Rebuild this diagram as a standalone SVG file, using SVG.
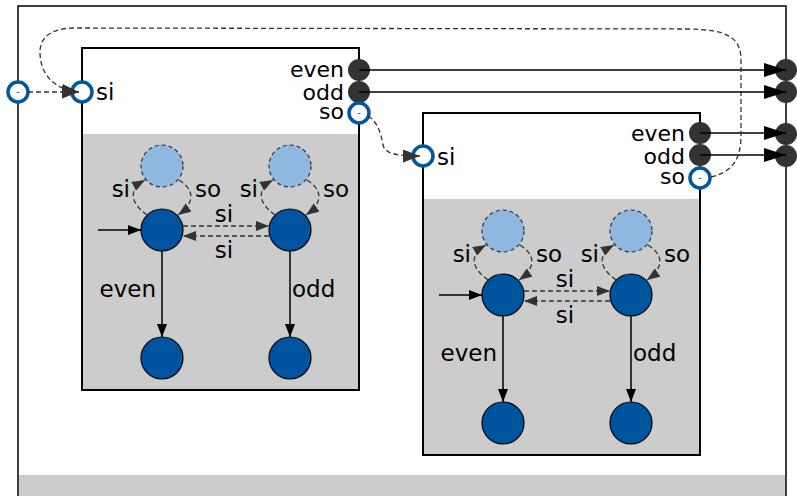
<svg xmlns="http://www.w3.org/2000/svg" width="797" height="496" viewBox="0 0 797 496">
<style>
.box{fill:#fff;stroke:#000;stroke-width:2}
.area{fill:#ccc}
.st{fill:#00539f;stroke:#000;stroke-width:1.2}
.lt{fill:#8fb8e0;stroke:#333;stroke-width:1.2;stroke-dasharray:4,3}
.pd{fill:#333}
.pr{fill:#fff;stroke:#0057a3;stroke-width:3.5}
.t{font-family:"DejaVu Sans",sans-serif;font-size:23px;fill:#000}
.h{font-size:22px}
.m{font-family:"DejaVu Sans",sans-serif;font-size:10px;fill:#555;text-anchor:middle}
.e{text-anchor:end}
.c{text-anchor:middle}
.sol{stroke:#000;stroke-width:1.5;fill:none}
.dsh{stroke:#333;stroke-width:1.3;fill:none;stroke-dasharray:5,3}
</style>
<defs>
<marker id="ab" markerUnits="userSpaceOnUse" markerWidth="22" markerHeight="14" refX="22" refY="7" orient="auto"><path d="M0,0L22,7L0,14z" fill="#000"/></marker>
<marker id="ad" markerUnits="userSpaceOnUse" markerWidth="17" markerHeight="13" refX="17" refY="6.5" orient="auto"><path d="M0,0L17,6.5L0,13z" fill="#333"/></marker>
<marker id="as" markerUnits="userSpaceOnUse" markerWidth="13" markerHeight="10" refX="13" refY="5" orient="auto"><path d="M0,0L13,5L0,10z" fill="#000"/></marker>
<marker id="ag" markerUnits="userSpaceOnUse" markerWidth="13" markerHeight="10" refX="13" refY="5" orient="auto"><path d="M0,0L13,5L0,10z" fill="#333"/></marker>
</defs>

<g id="outer">
<rect x="19" y="475" width="766" height="22" class="area"/>
<path d="M18,497V6H786V497" fill="none" stroke="#000" stroke-width="1.5"/>
</g>

<g id="box1">
<rect x="82" y="48" width="277" height="342" class="box"/>
<rect x="83" y="134" width="275" height="255" class="area"/>
<text x="96" y="100" class="t">si</text>
<text x="344" y="77" class="t h e">even</text>
<text x="344" y="100" class="t h e">odd</text>
<text x="344" y="119" class="t h e">so</text>
</g>

<g id="box2">
<rect x="423" y="113" width="277" height="342" class="box"/>
<rect x="424" y="199" width="275" height="255" class="area"/>
<text x="437" y="165" class="t">si</text>
<text x="685" y="141" class="t h e">even</text>
<text x="685" y="164" class="t h e">odd</text>
<text x="685" y="184" class="t h e">so</text>
</g>

<g id="b1-l1"><circle cx="162" cy="166" r="21" class="lt"/></g>
<g id="b1-l2"><circle cx="290" cy="166" r="21" class="lt"/></g>
<g id="b1-s1"><circle cx="162" cy="230" r="21" class="st"/></g>
<g id="b1-s2"><circle cx="290" cy="230" r="21" class="st"/></g>
<g id="b1-s3"><circle cx="162" cy="358" r="21" class="st"/></g>
<g id="b1-s4"><circle cx="290" cy="358" r="21" class="st"/></g>

<g id="b2-l1"><circle cx="503" cy="231" r="21" class="lt"/></g>
<g id="b2-l2"><circle cx="631" cy="231" r="21" class="lt"/></g>
<g id="b2-s1"><circle cx="503" cy="295" r="21" class="st"/></g>
<g id="b2-s2"><circle cx="631" cy="295" r="21" class="st"/></g>
<g id="b2-s3"><circle cx="503" cy="423" r="21" class="st"/></g>
<g id="b2-s4"><circle cx="631" cy="423" r="21" class="st"/></g>

<g id="p-out-si"><circle cx="18" cy="92" r="10" class="pr"/><text x="18" y="95" class="m">-</text></g>
<g id="p-b1-si"><circle cx="82" cy="92" r="10" class="pr"/></g>
<g id="p-b1-even"><circle cx="359" cy="70" r="11" class="pd"/></g>
<g id="p-b1-odd"><circle cx="359" cy="92" r="11" class="pd"/></g>
<g id="p-b1-so"><circle cx="359" cy="113" r="10" class="pr"/><text x="359" y="116" class="m">-</text></g>
<g id="p-b2-si"><circle cx="423" cy="156" r="10" class="pr"/></g>
<g id="p-b2-even"><circle cx="700" cy="133" r="11" class="pd"/></g>
<g id="p-b2-odd"><circle cx="700" cy="155" r="11" class="pd"/></g>
<g id="p-b2-so"><circle cx="700" cy="178" r="10" class="pr"/><text x="700" y="181" class="m">-</text></g>
<g id="p-out-1"><circle cx="786" cy="70" r="11" class="pd"/></g>
<g id="p-out-2"><circle cx="786" cy="92" r="11" class="pd"/></g>
<g id="p-out-3"><circle cx="786" cy="134" r="11" class="pd"/></g>
<g id="p-out-4"><circle cx="786" cy="156" r="11" class="pd"/></g>

<g id="connectors">
<path d="M98,230H141" class="sol" marker-end="url(#as)"/>
<path d="M162,251V337" class="sol" marker-end="url(#as)"/>
<path d="M290,251V337" class="sol" marker-end="url(#as)"/>
<path d="M183,226H269" class="dsh" marker-end="url(#ag)"/>
<path d="M269,236H183" class="dsh" marker-end="url(#ag)"/>
<path d="M147,215C129,202 129,189 145,180" class="dsh" marker-end="url(#ag)"/>
<path d="M179,180C195,190 195,203 178,215" class="dsh" marker-end="url(#ag)"/>
<path d="M275,215C257,202 257,189 273,180" class="dsh" marker-end="url(#ag)"/>
<path d="M307,180C323,190 323,203 306,215" class="dsh" marker-end="url(#ag)"/>
<text x="156" y="297" class="t e">even</text>
<text x="292" y="297" class="t">odd</text>
<text x="224" y="222" class="t c">si</text>
<text x="224" y="258" class="t c">si</text>
<text x="130" y="197" class="t e">si</text>
<text x="195" y="197" class="t">so</text>
<text x="258" y="197" class="t e">si</text>
<text x="323" y="197" class="t">so</text>

<path d="M439,295H482" class="sol" marker-end="url(#as)"/>
<path d="M503,316V402" class="sol" marker-end="url(#as)"/>
<path d="M631,316V402" class="sol" marker-end="url(#as)"/>
<path d="M524,291H610" class="dsh" marker-end="url(#ag)"/>
<path d="M610,301H524" class="dsh" marker-end="url(#ag)"/>
<path d="M488,280C470,267 470,254 486,245" class="dsh" marker-end="url(#ag)"/>
<path d="M520,245C536,255 536,268 519,280" class="dsh" marker-end="url(#ag)"/>
<path d="M616,280C598,267 598,254 614,245" class="dsh" marker-end="url(#ag)"/>
<path d="M648,245C664,255 664,268 647,280" class="dsh" marker-end="url(#ag)"/>
<text x="497" y="361" class="t e">even</text>
<text x="633" y="361" class="t">odd</text>
<text x="565" y="287" class="t c">si</text>
<text x="565" y="323" class="t c">si</text>
<text x="471" y="262" class="t e">si</text>
<text x="536" y="262" class="t">so</text>
<text x="599" y="262" class="t e">si</text>
<text x="664" y="262" class="t">so</text>

<path d="M28,92H79" class="dsh" marker-end="url(#ad)"/>
<path d="M359,70H786" class="sol" marker-end="url(#ab)"/>
<path d="M359,92H786" class="sol" marker-end="url(#ab)"/>
<path d="M700,133H786" class="sol" marker-end="url(#ab)"/>
<path d="M700,155H786" class="sol" marker-end="url(#ab)"/>
<path d="M368,116C378,122 381,134 383,145C385,153 394,156 420,156" class="dsh" marker-end="url(#ad)"/>
<path d="M711,177C732,172 741,160 741,135L741,60C741,36 725,30 690,29L75,28C50,28 40,38 40,52C40,75 55,90 79,92" class="dsh" marker-end="url(#ad)"/>
</g>
</svg>
